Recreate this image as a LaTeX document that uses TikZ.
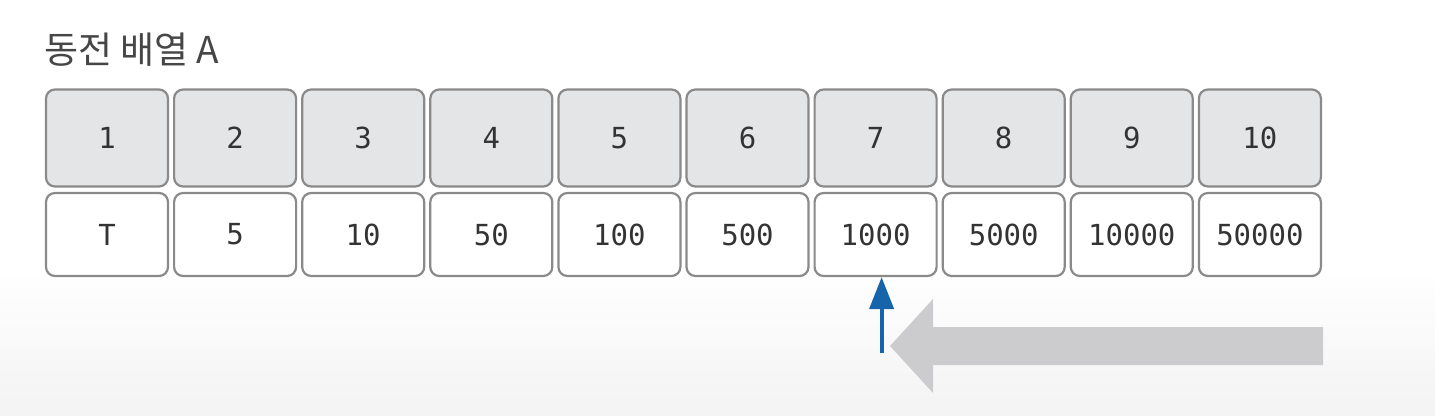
\documentclass[tikz,border=0pt]{standalone}
\usepackage{fontspec}
\newfontfamily\krfont{Noto Sans CJK KR}
\newfontfamily\cellfont{DejaVu Sans Mono}
\usetikzlibrary{arrows.meta,positioning}

\definecolor{cellline}{RGB}{138,138,138}
\definecolor{headfill}{RGB}{228,229,230}
\definecolor{celltext}{RGB}{51,51,51}
\definecolor{titletext}{RGB}{70,70,70}
\definecolor{ptrblue}{RGB}{22,100,170}
\definecolor{sweepgray}{RGB}{204,204,207}
\definecolor{floorgray}{RGB}{243,243,244}

\tikzset{
  cellbase/.style={draw=cellline, line width=2.2pt, rounded corners=9pt,
    minimum width=122pt, inner sep=0pt, text=celltext,
    font=\cellfont\fontsize{29}{34}\selectfont},
  idxcell/.style={cellbase, fill=headfill, minimum height=97pt},
  valcell/.style={cellbase, fill=white, minimum height=83pt},
}

\begin{document}
\begin{tikzpicture}[x=1pt, y=-1pt, line cap=round, line join=round]

  %% ════ 背景 ════
  \fill[white] (0,0) rectangle (1435,415);
  \shade[top color=white, bottom color=floorgray] (0,270) rectangle (1435,415);

  %% ════ 标题 ════
  \node[anchor=base west, inner sep=0pt, text=titletext,
        font=\krfont\fontsize{37}{44}\selectfont] (title) at (44,63) {동전 배열 A};

  %% ════ 格子：上行是序号，下行是面值 ════
  \foreach \i/\v in {1/T,2/5,3/10,4/50,5/100,6/500,7/1000,8/5000,9/10000,10/50000} {
    \node[idxcell] (k\i) at ({107+128.1*(\i-1)},138) {\i};
    \node[valcell] (v\i) at ({107+128.1*(\i-1)},234.5) {\v};
  }

  %% ════ 指针（蓝色箭头）════
  \coordinate (ptrtip) at ([xshift=6pt]v7.south);
  \coordinate (ptrfoot) at ([yshift=-76pt]ptrtip);
  \draw[ptrblue, line width=4pt, line cap=butt,
        -{Triangle[length=32pt, width=24pt]}] (ptrfoot) -- (ptrtip);

  %% ════ 扫描方向（灰色大箭头）════
  \fill[sweepgray] (890,346) -- (933,299) -- (933,327) -- (1323,327)
    -- (1323,365) -- (933,365) -- (933,393) -- cycle;

  % 钉死画布
  \pgfresetboundingbox
  \path[use as bounding box] (0,0) rectangle (1435,415);
\end{tikzpicture}
\end{document}
